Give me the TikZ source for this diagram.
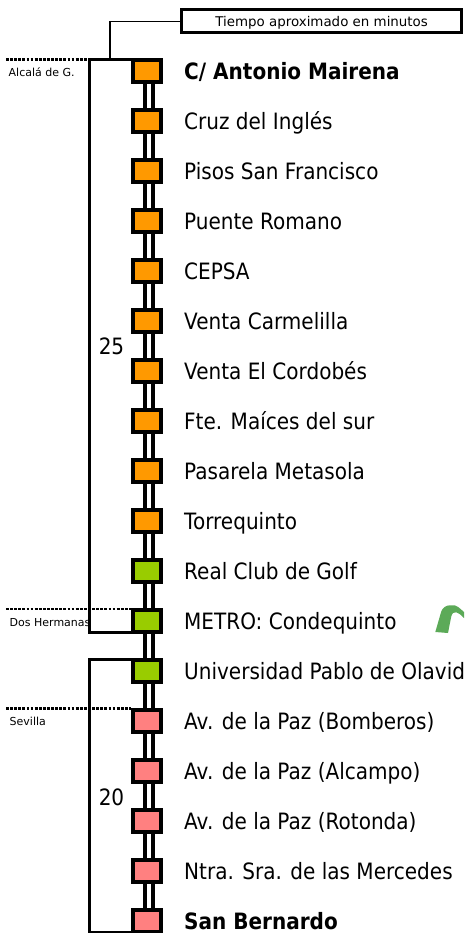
\documentclass[tikz,border=0pt]{standalone}
\usepackage{fontspec}
\setmainfont{DejaVu Sans}[FakeStretch=0.89]
\newfontfamily\smallfont{DejaVu Sans}
\definecolor{org}{HTML}{FF9900}
\definecolor{grn}{HTML}{99CC00}
\definecolor{pnk}{HTML}{FF8080}
\definecolor{arrowgreen}{RGB}{92,170,88}
\tikzset{
  stopbox/.style={draw=black, line width=4pt, minimum width=28pt, minimum height=22pt, inner sep=0pt},
  rail/.style={draw=black, line width=4pt, double=white, double distance=4pt},
  bracket/.style={draw=black, line width=3.3pt},
  dotline/.style={draw=black, line width=2.8pt, dash pattern=on 2.8pt off 1.3pt},
  thinline/.style={draw=black, line width=1.4pt},
  lbl/.style={anchor=base west, inner sep=0pt, font=\fontsize{22.5}{27}\selectfont},
  num/.style={inner sep=0pt, font=\fontsize{22.5}{27}\selectfont},
  place/.style={anchor=base west, inner sep=0pt, font=\smallfont\fontsize{11}{13}\selectfont},
  tbox/.style={draw=black, line width=3pt, minimum width=279.8pt, minimum height=23pt, inner sep=0pt,
    text height=9.8pt, text depth=0pt, font=\smallfont\fontsize{13.4}{16}\selectfont}
}
\begin{document}
\begin{tikzpicture}[x=1pt,y=-1pt]
\useasboundingbox (0,0) rectangle (464,933);
% stop boxes
\foreach \i/\c in {0/org,1/org,2/org,3/org,4/org,5/org,6/org,7/org,8/org,9/org,10/grn,11/grn,12/grn,13/pnk,14/pnk,15/pnk,16/pnk,17/pnk}{
  \node[stopbox, fill=\c] (s\i) at (147.2,{71+50*\i}) {};
}
% rails
\foreach \i [evaluate=\i as \j using int(\i+1)] in {0,...,16}{
  \draw[rail] ([xshift=1.6pt]s\i.south) -- ([xshift=1.6pt]s\j.north);
}
% labels
\foreach \i/\t in {1/Cruz del Inglés,2/Pisos San Francisco,3/Puente Romano,4/CEPSA,5/Venta Carmelilla,6/Venta El Cordobés,7/Fte. Maíces del sur,8/Pasarela Metasola,9/Torrequinto,10/Real Club de Golf,11/METRO: Condequinto,12/Universidad Pablo de Olavide,13/Av. de la Paz (Bomberos),14/Av. de la Paz (Alcampo),15/Av. de la Paz (Rotonda),16/Ntra. Sra. de las Mercedes}{
  \node[lbl] (l\i) at (184,{71+50*\i+8.2}) {\t};
}
\node[lbl] (l0) at (184,79.2) {\textbf{C/ Antonio Mairena}};
\node[lbl] (l17) at (184,929.2) {\textbf{San Bernardo}};
% brackets
\draw[bracket] ([yshift=-1.7pt]s0.north west) -- ++(-41.5,0) coordinate (k1) |- ([yshift=1.7pt]s11.south west);
\draw[bracket] ([yshift=-1.7pt]s12.north west) -- ++(-41.5,0) coordinate (k2) |- ([yshift=1.7pt]s17.south west);
\node[num] (n25) at (111.5,346) {25};
\node[num] (n20) at (111.5,797) {20};
% town boundaries
\coordinate (d1) at (6,59.7);
\coordinate (d2) at (6,609);
\coordinate (d3) at (6,708.7);
\draw[dotline] (d1) -- (k1);
\draw[dotline] (d2) -- (d2 -| s11.west);
\draw[dotline] (d3) -- (d3 -| s13.west);
\node[place] (p1) at (8.5,77) {Alcalá de G.};
\node[place] (p2) at (9.5,626) {Dos Hermanas};
\node[place] (p3) at (9.5,725.7) {Sevilla};
% time legend
\node[tbox] (t) at (321.6,21.5) {Tiempo aproximado en minutos};
\coordinate (tj) at (110,59.7);
\draw[thinline] (t.west) -| (tj);
% green arrow fragment
\fill[arrowgreen] (435.3,632) -- (441.3,611.3) .. controls (442.5,608) and (446,605.3) .. (449.7,605.3) -- (454.7,605.3) .. controls (457,605.8) and (459,607.5) .. (464,612) -- (464,618) -- (459.7,614) .. controls (457.5,612) and (455,611.8) .. (453,613) .. controls (452,614) and (451.5,615.5) .. (451.3,616.3) -- (448,633) -- cycle;
\end{tikzpicture}
\end{document}
